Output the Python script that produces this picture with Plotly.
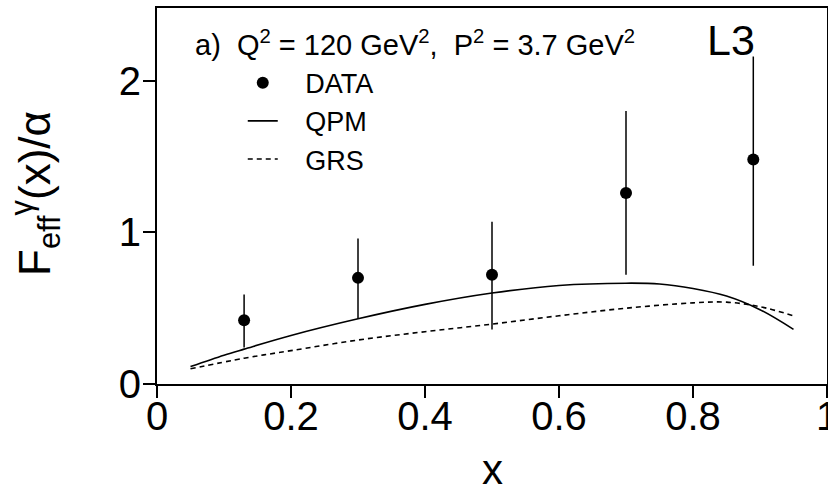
import plotly.graph_objects as go

# ---- data ----
data_x = [0.13, 0.30, 0.50, 0.70, 0.89]
data_y = [0.42, 0.70, 0.72, 1.26, 1.48]
data_hi = [0.59, 0.96, 1.07, 1.80, 2.16]
data_lo = [0.24, 0.43, 0.36, 0.72, 0.78]

qpm_x = [0.05, 0.10, 0.13, 0.20, 0.30, 0.40, 0.50, 0.60, 0.70, 0.75, 0.80, 0.85, 0.90, 0.95]
qpm_y = [0.115, 0.19, 0.23, 0.32, 0.43, 0.525, 0.60, 0.65, 0.665, 0.66, 0.63, 0.58, 0.49, 0.36]

grs_x = [0.05, 0.13, 0.20, 0.30, 0.40, 0.50, 0.60, 0.70, 0.80, 0.85, 0.90, 0.95]
grs_y = [0.10, 0.17, 0.22, 0.29, 0.345, 0.395, 0.45, 0.50, 0.535, 0.54, 0.51, 0.45]

x_ticks = [0, 0.2, 0.4, 0.6, 0.8, 1]
x_tick_text = ["0", "0.2", "0.4", "0.6", "0.8", "1"]
y_ticks = [0, 1, 2]
y_tick_text = ["0", "1", "2"]

FONT = "Liberation Sans, Arial, sans-serif"

err_plus = [h - y for h, y in zip(data_hi, data_y)]
err_minus = [y - l for l, y in zip(data_lo, data_y)]

fig = go.Figure()
fig.add_trace(go.Scatter(
    x=data_x, y=data_y, mode="markers", name="   DATA",
    marker=dict(color="black", size=12),
    error_y=dict(type="data", array=err_plus, arrayminus=err_minus,
                 symmetric=False, width=0, thickness=1.5, color="black"),
    legendgroup="a",
))
fig.add_trace(go.Scatter(
    x=qpm_x, y=qpm_y, mode="lines", name="   QPM", line_shape="spline",
    line=dict(color="black", width=1.6), legendgroup="b",
))
fig.add_trace(go.Scatter(
    x=grs_x, y=grs_y, mode="lines", name="   GRS", line_shape="spline",
    line=dict(color="black", width=1.6, dash="5px,4px"), legendgroup="c",
))

axis_common = dict(
    showline=True, linecolor="black", linewidth=2, mirror=True,
    ticks="outside", ticklen=12, tickwidth=1.5, tickcolor="black",
    showgrid=False, zeroline=False, ticklabeloverflow="allow", automargin=False,
    tickfont=dict(family=FONT, size=40, color="black"),
)

fig.update_layout(
    width=828, height=491,
    margin=dict(l=157, r=1, t=8, b=107, autoexpand=False),
    paper_bgcolor="white", plot_bgcolor="white",
    showlegend=True,
    legend=dict(x=0.128, y=0.865, xanchor="left", yanchor="top",
                bgcolor="rgba(0,0,0,0)", borderwidth=0,
                font=dict(family=FONT, size=27, color="black"),
                itemwidth=30, tracegroupgap=0),
    xaxis=dict(range=[0, 1], tickvals=x_ticks, ticktext=x_tick_text,
               ticklabelstandoff=-16, **axis_common),
    yaxis=dict(range=[0, 2.48], tickvals=y_ticks, ticktext=y_tick_text,
               ticklabelstandoff=-6, **axis_common),
    annotations=[
        dict(xref="paper", yref="paper", x=0.0537, y=0.907, xanchor="left", yanchor="middle",
             text="a)  Q<sup>2</sup> = 120 GeV<sup>2</sup>,  P<sup>2</sup> = 3.7 GeV<sup>2</sup>",
             showarrow=False, font=dict(family=FONT, size=29, color="black")),
        dict(xref="paper", yref="paper", x=0.818, y=0.915, xanchor="left", yanchor="middle",
             text="L3", showarrow=False, font=dict(family=FONT, size=43, color="black")),
        dict(xref="paper", yref="paper", x=0.5, y=-0.226, xanchor="center", yanchor="middle",
             height=40, text="x", showarrow=False, font=dict(family=FONT, size=42, color="black")),
        dict(xref="paper", yref="paper", x=-0.1806, y=0.508, xanchor="center", yanchor="middle",
             textangle=-90, text="F<sub>eff</sub><sup>γ</sup>(x)/α", showarrow=False,
             font=dict(family=FONT, size=44, color="black")),
    ],
)

fig.write_html("out.html")
